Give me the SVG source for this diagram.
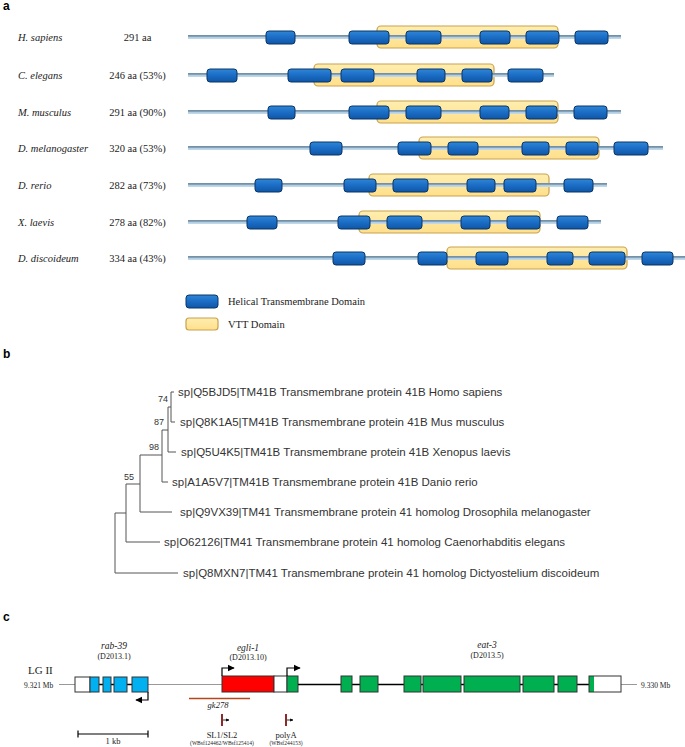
<svg xmlns="http://www.w3.org/2000/svg" width="685" height="747" viewBox="0 0 685 747">
<defs>
<linearGradient id="gTM" x1="0" y1="0" x2="0" y2="1">
<stop offset="0" stop-color="#2f86d6"/><stop offset="0.5" stop-color="#1a6cc4"/><stop offset="1" stop-color="#0f56a6"/>
</linearGradient>
<linearGradient id="gVTT" x1="0" y1="0" x2="0" y2="1">
<stop offset="0" stop-color="#ffeeb0"/><stop offset="1" stop-color="#ffdf8a"/>
</linearGradient>
<linearGradient id="gLine" x1="0" y1="0" x2="0" y2="1">
<stop offset="0" stop-color="#6b889f"/><stop offset="0.45" stop-color="#8aa6bc"/><stop offset="0.55" stop-color="#b0cce0"/><stop offset="1" stop-color="#c3dbec"/>
</linearGradient>
<marker id="arr" viewBox="0 0 10 10" refX="9" refY="5" markerWidth="6" markerHeight="6" orient="auto">
<path d="M0,0 L10,5 L0,10 z" fill="#000"/>
</marker>
<marker id="arrS" viewBox="0 0 10 10" refX="9" refY="5" markerWidth="4" markerHeight="4" orient="auto">
<path d="M0,0 L10,5 L0,10 z" fill="#000"/>
</marker>
</defs>
<style>
.pl{font-family:"Liberation Sans",Arial,sans-serif;font-weight:bold;font-size:12px;fill:#000}
.sp{font-family:"Liberation Serif","Times New Roman",serif;font-style:italic;font-size:10.5px;fill:#222}
.len{font-family:"Liberation Serif","Times New Roman",serif;font-size:10.5px;fill:#222;text-anchor:middle}
.tm{fill:url(#gTM);stroke:#0b3566;stroke-width:1}
.vtt{fill:url(#gVTT);stroke:#c9a24e;stroke-width:1.2}
.ln{fill:url(#gLine)}
.tr{stroke:#555;stroke-width:1;fill:none}
.tl{font-family:"Liberation Sans",Arial,sans-serif;font-size:11.5px;fill:#333}
.bs{font-family:"Liberation Sans",Arial,sans-serif;font-size:9px;fill:#333;text-anchor:end}
.sr{font-family:"Liberation Serif","Times New Roman",serif;fill:#222}
.gi{font-family:"Liberation Serif","Times New Roman",serif;font-style:italic;fill:#222;text-anchor:middle}
.ex{stroke:#333;stroke-width:1}
.wh{fill:#fff}
.bl{fill:#00b0f0}
.gr{fill:#00b050}
.rd{fill:#ff0000}
.gline{stroke:#999;stroke-width:1}
.kline{stroke:#000;stroke-width:1.3}
.mk{stroke:#8b2a2a;stroke-width:2}
</style>
<rect width="685" height="747" fill="#fff"/>

<!-- Panel a -->
<text class="pl" x="3" y="10">a</text>

<g id="row-hsapiens">
<text class="sp" x="18" y="41">H. sapiens</text>
<text class="len" x="137.5" y="41">291 aa</text>
<rect class="vtt" x="377" y="26" width="181" height="22" rx="4"/>
<rect class="ln" x="188" y="35" width="433" height="4"/>
<rect class="tm" x="266" y="31" width="29" height="13" rx="3"/>
<rect class="tm" x="349" y="31" width="40" height="13" rx="3"/>
<rect class="tm" x="406" y="31" width="35" height="13" rx="3"/>
<rect class="tm" x="480" y="31" width="30" height="13" rx="3"/>
<rect class="tm" x="526" y="31" width="33" height="13" rx="3"/>
<rect class="tm" x="575" y="31" width="33" height="13" rx="3"/>
</g>

<g id="row-celegans">
<text class="sp" x="18" y="79">C. elegans</text>
<text class="len" x="137.5" y="79">246 aa (53%)</text>
<rect class="vtt" x="314" y="64" width="180" height="22" rx="4"/>
<rect class="ln" x="188" y="73" width="366" height="4"/>
<rect class="tm" x="207" y="69" width="30" height="13" rx="3"/>
<rect class="tm" x="288" y="69" width="43" height="13" rx="3"/>
<rect class="tm" x="341" y="69" width="33" height="13" rx="3"/>
<rect class="tm" x="417" y="69" width="28" height="13" rx="3"/>
<rect class="tm" x="462" y="69" width="30" height="13" rx="3"/>
<rect class="tm" x="508" y="69" width="35" height="13" rx="3"/>
</g>

<g id="row-mmusculus">
<text class="sp" x="18" y="116">M. musculus</text>
<text class="len" x="137.5" y="116">291 aa (90%)</text>
<rect class="vtt" x="377" y="101" width="181" height="22" rx="4"/>
<rect class="ln" x="188" y="110" width="433" height="4"/>
<rect class="tm" x="268" y="106" width="27" height="13" rx="3"/>
<rect class="tm" x="349" y="106" width="40" height="13" rx="3"/>
<rect class="tm" x="406" y="106" width="35" height="13" rx="3"/>
<rect class="tm" x="480" y="106" width="29" height="13" rx="3"/>
<rect class="tm" x="526" y="106" width="31" height="13" rx="3"/>
<rect class="tm" x="574" y="106" width="33" height="13" rx="3"/>
</g>

<g id="row-dmelanogaster">
<text class="sp" x="18" y="152">D. melanogaster</text>
<text class="len" x="137.5" y="152">320 aa (53%)</text>
<rect class="vtt" x="419" y="137" width="180" height="22" rx="4"/>
<rect class="ln" x="188" y="146" width="475" height="4"/>
<rect class="tm" x="310" y="142" width="32" height="13" rx="3"/>
<rect class="tm" x="398" y="142" width="33" height="13" rx="3"/>
<rect class="tm" x="448" y="142" width="30" height="13" rx="3"/>
<rect class="tm" x="522" y="142" width="27" height="13" rx="3"/>
<rect class="tm" x="566" y="142" width="32" height="13" rx="3"/>
<rect class="tm" x="614" y="142" width="34" height="13" rx="3"/>
</g>

<g id="row-drerio">
<text class="sp" x="18" y="189">D. rerio</text>
<text class="len" x="137.5" y="189">282 aa (73%)</text>
<rect class="vtt" x="369" y="174" width="180" height="22" rx="4"/>
<rect class="ln" x="188" y="183" width="419" height="4"/>
<rect class="tm" x="255" y="179" width="27" height="13" rx="3"/>
<rect class="tm" x="344" y="179" width="32" height="13" rx="3"/>
<rect class="tm" x="393" y="179" width="35" height="13" rx="3"/>
<rect class="tm" x="467" y="179" width="28" height="13" rx="3"/>
<rect class="tm" x="504" y="179" width="32" height="13" rx="3"/>
<rect class="tm" x="564" y="179" width="29" height="13" rx="3"/>
</g>

<g id="row-xlaevis">
<text class="sp" x="18" y="226">X. laevis</text>
<text class="len" x="137.5" y="226">278 aa (82%)</text>
<rect class="vtt" x="359" y="211" width="181" height="22" rx="4"/>
<rect class="ln" x="188" y="220" width="413" height="4"/>
<rect class="tm" x="247" y="216" width="30" height="13" rx="3"/>
<rect class="tm" x="338" y="216" width="32" height="13" rx="3"/>
<rect class="tm" x="387" y="216" width="35" height="13" rx="3"/>
<rect class="tm" x="461" y="216" width="29" height="13" rx="3"/>
<rect class="tm" x="507" y="216" width="33" height="13" rx="3"/>
<rect class="tm" x="557" y="216" width="31" height="13" rx="3"/>
</g>

<g id="row-ddiscoideum">
<text class="sp" x="18" y="262">D. discoideum</text>
<text class="len" x="137.5" y="262">334 aa (43%)</text>
<rect class="vtt" x="447" y="247" width="180" height="22" rx="4"/>
<rect class="ln" x="188" y="256" width="497" height="4"/>
<rect class="tm" x="333" y="252" width="32" height="13" rx="3"/>
<rect class="tm" x="418" y="252" width="29" height="13" rx="3"/>
<rect class="tm" x="476" y="252" width="32" height="13" rx="3"/>
<rect class="tm" x="547" y="252" width="26" height="13" rx="3"/>
<rect class="tm" x="589" y="252" width="36" height="13" rx="3"/>
<rect class="tm" x="642" y="252" width="31" height="13" rx="3"/>
</g>

<g id="legend">
<rect class="tm" x="186" y="295" width="32" height="13" rx="3"/>
<text class="sr" x="228" y="305" font-size="10.5">Helical Transmembrane Domain</text>
<rect class="vtt" x="186" y="318" width="32" height="12" rx="3"/>
<text class="sr" x="228" y="328" font-size="10.5">VTT Domain</text>
</g>

<!-- Panel b -->
<text class="pl" x="3" y="358">b</text>
<g id="tree-connectors">
<path class="tr" d="M171,392 H174 M171,392 V422 H175"/>
<path class="tr" d="M168,407 H171 M168,407 V452 H176"/>
<path class="tr" d="M162,430 H168 M162,430 V482 H168"/>
<path class="tr" d="M140,455 H162 M140,455 V512 H172"/>
<path class="tr" d="M126,484 H140 M126,484 V542 H160"/>
<path class="tr" d="M115,513 H126 M115,513 V573 H178"/>
</g>
<g id="tree-labels">
<text class="tl" x="178" y="396">sp|Q5BJD5|TM41B Transmembrane protein 41B Homo sapiens</text>
<text class="tl" x="180" y="426">sp|Q8K1A5|TM41B Transmembrane protein 41B Mus musculus</text>
<text class="tl" x="181" y="456">sp|Q5U4K5|TM41B Transmembrane protein 41B Xenopus laevis</text>
<text class="tl" x="172" y="486">sp|A1A5V7|TM41B Transmembrane protein 41B Danio rerio</text>
<text class="tl" x="180" y="516">sp|Q9VX39|TM41 Transmembrane protein 41 homolog Drosophila melanogaster</text>
<text class="tl" x="164" y="546">sp|O62126|TM41 Transmembrane protein 41 homolog Caenorhabditis elegans</text>
<text class="tl" x="183" y="577">sp|Q8MXN7|TM41 Transmembrane protein 41 homolog Dictyostelium discoideum</text>
<text class="bs" x="168" y="402">74</text>
<text class="bs" x="164" y="425">87</text>
<text class="bs" x="159" y="450">98</text>
<text class="bs" x="134" y="480">55</text>
</g>

<!-- Panel c -->
<text class="pl" x="3" y="621">c</text>
<g id="chrom">
<text class="sr" x="28" y="674" font-size="11">LG II</text>
<text class="sr" x="24" y="688" font-size="7.5">9.321 Mb</text>
<text class="sr" x="641" y="688" font-size="7.5">9.330 Mb</text>
<line class="gline" x1="59" y1="684.5" x2="75" y2="684.5"/>
<line class="gline" x1="148" y1="684.5" x2="222" y2="684.5"/>
<line class="gline" x1="621" y1="684.5" x2="637" y2="684.5"/>
</g>

<g id="rab-39">
<text class="gi" x="114" y="649" font-size="9.5">rab-39</text>
<text class="sr" x="114" y="659" font-size="8" text-anchor="middle">(D2013.1)</text>
<line class="kline" x1="90" y1="684.5" x2="132" y2="684.5"/>
<rect class="ex wh" x="75" y="677" width="15" height="15"/>
<rect class="ex bl" x="90" y="677" width="9" height="15"/>
<rect class="ex bl" x="103" y="677" width="8" height="15"/>
<rect class="ex bl" x="114" y="677" width="13" height="15"/>
<rect class="ex bl" x="132" y="677" width="16" height="15"/>
<path d="M148,692 V700 H136" stroke="#000" stroke-width="1.2" fill="none" marker-end="url(#arr)"/>
</g>

<g id="egli-1">
<text class="gi" x="248" y="651" font-size="9.5">egli-1</text>
<text class="sr" x="248" y="660" font-size="8" text-anchor="middle">(D2013.10)</text>
<rect class="ex rd" x="222" y="676" width="52" height="16"/>
<rect class="ex wh" x="274" y="676" width="13" height="16"/>
<rect class="ex gr" x="287" y="676" width="11" height="16"/>
<path d="M222,676 V668 H234" stroke="#000" stroke-width="1.2" fill="none" marker-end="url(#arr)"/>
<path d="M287,676 V668 H300" stroke="#000" stroke-width="1.2" fill="none" marker-end="url(#arr)"/>
</g>

<g id="eat-3">
<text class="gi" x="487" y="648" font-size="9.5">eat-3</text>
<text class="sr" x="487" y="658" font-size="8" text-anchor="middle">(D2013.5)</text>
<line class="kline" x1="298" y1="684.5" x2="589" y2="684.5"/>
<rect class="ex gr" x="341" y="676" width="11" height="16"/>
<rect class="ex gr" x="360" y="676" width="18" height="16"/>
<rect class="ex gr" x="404" y="676" width="17" height="16"/>
<rect class="ex gr" x="423" y="676" width="38" height="16"/>
<rect class="ex gr" x="464" y="676" width="56" height="16"/>
<rect class="ex gr" x="523" y="676" width="31" height="16"/>
<rect class="ex gr" x="558" y="676" width="19" height="16"/>
<rect class="gr" x="589" y="676" width="5" height="16"/>
<rect class="wh" x="594" y="676" width="27" height="16"/>
<rect x="589" y="676" width="32" height="16" fill="none" stroke="#333" stroke-width="1"/>
</g>

<g id="gk278">
<line x1="189" y1="698.5" x2="250" y2="698.5" stroke="#b5451b" stroke-width="1.5"/>
<text class="gi" x="218" y="708" font-size="8.5">gk278</text>
</g>

<g id="sl1-sl2">
<line class="mk" x1="222" y1="714" x2="222" y2="726"/>
<line x1="223" y1="720" x2="229" y2="720" stroke="#000" stroke-width="0.8" marker-end="url(#arrS)"/>
<text class="sr" x="222" y="738" font-size="8.5" text-anchor="middle">SL1/SL2</text>
<text class="sr" x="222" y="745" font-size="5.5" text-anchor="middle">(WBsf124462/WBsf125414)</text>
</g>

<g id="polyA">
<line class="mk" x1="286" y1="714" x2="286" y2="726"/>
<line x1="287" y1="720" x2="293" y2="720" stroke="#000" stroke-width="0.8" marker-end="url(#arrS)"/>
<text class="sr" x="286" y="738" font-size="8.5" text-anchor="middle">polyA</text>
<text class="sr" x="286" y="745" font-size="5.5" text-anchor="middle">(WBsf244153)</text>
</g>

<g id="scale">
<path d="M78,734 H148 M78,730.5 V737.5 M148,730.5 V737.5" stroke="#000" stroke-width="1.2" fill="none"/>
<text class="sr" x="113" y="744" font-size="8.5" text-anchor="middle">1 kb</text>
</g>
</svg>
